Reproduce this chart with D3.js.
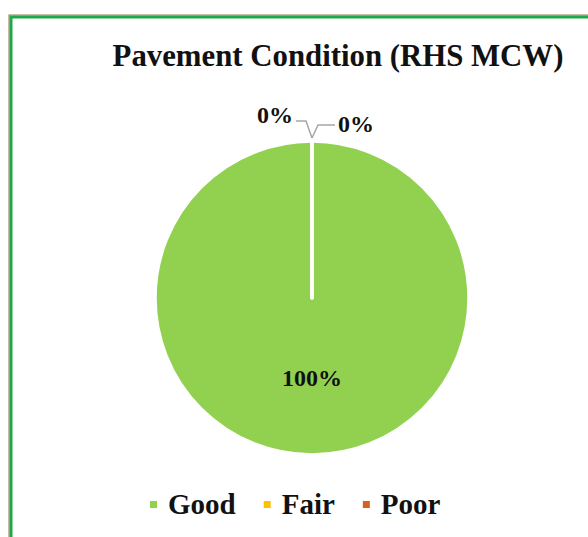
<!DOCTYPE html>
<html>
<head>
<meta charset="utf-8">
<script src="https://cdn.jsdelivr.net/npm/d3@7"></script>
<style>
  html, body { margin: 0; padding: 0; background: #ffffff; }
  svg { display: block; }
</style>
</head>
<body>
<script>
const categories = ["Good", "Fair", "Poor"];
const values = [100, 0, 0];
const labels = ["100%", "0%", "0%"];
const colors = ["#92D050", "#FFC000", "#D9601E"];
const title = "Pavement Condition (RHS MCW)";

const W = 588, H = 537;
const FONT = "'Liberation Serif', 'Times New Roman', serif";
const svg = d3.select("body").append("svg").attr("width", W).attr("height", H);

// frame
svg.append("rect").attr("x", 9).attr("y", 15).attr("width", W + 20).attr("height", H + 20)
  .attr("fill", "none").attr("stroke", "#8A7A4A").attr("stroke-width", 1);
svg.append("rect").attr("x", 11).attr("y", 17).attr("width", W + 20).attr("height", H + 20)
  .attr("fill", "none").attr("stroke", "#21A84A").attr("stroke-width", 3);

// title
svg.append("text").attr("x", 338).attr("y", 66).attr("text-anchor", "middle")
  .attr("font-family", FONT).attr("font-weight", "bold").attr("font-size", 30.8)
  .attr("fill", "#111").text(title);

const cx = 312, cy = 298, R = 157;
const g = svg.append("g").attr("transform", `translate(${cx},${cy})`);
const pie = d3.pie().sort(null).value(d => d);
const arcs = pie(values);
const arc = d3.arc().innerRadius(0).outerRadius(R);
const color = d3.scaleOrdinal().domain(categories).range(colors);

g.selectAll("path.slice").data(arcs).enter().append("path")
  .attr("class", "slice")
  .attr("d", arc)
  .attr("fill", (d, i) => color(categories[i]))
  .attr("stroke", "#ffffff").attr("stroke-width", 3.5).attr("stroke-linejoin", "round");

// labels
const lab = svg.append("g").attr("font-family", FONT).attr("font-weight", "bold")
  .attr("font-size", 24).attr("fill", "#111");
const a0 = (arcs[0].startAngle + arcs[0].endAngle) / 2;
lab.append("text").attr("x", cx + Math.sin(a0) * R * 0.56).attr("y", cy - Math.cos(a0) * R * 0.56 + 0)
  .attr("text-anchor", "middle").text(labels[0]);

// zero slices labels with leader lines
const leader = svg.append("g").attr("fill", "none").attr("stroke", "#A6A6A6").attr("stroke-width", 1.5);
[1, 2].forEach((i, k) => {
  const a = arcs[i].startAngle;
  const px = cx + Math.sin(a) * R, py = cy - Math.cos(a) * R - 3;
  const side = k === 0 ? -1 : 1;
  const ey = k === 0 ? py - 17 : py - 13;
  const kx = px + side * 6;
  const hx = px + side * (k === 0 ? 16 : 23);
  leader.append("path").attr("d", `M${px},${py}L${kx},${ey}L${hx},${ey}`);
  lab.append("text").attr("x", hx + side * 3).attr("y", ey + (k === 0 ? 2 : 7))
    .attr("text-anchor", k === 0 ? "end" : "start").text(labels[i]);
});

// legend
const leg = svg.append("g").attr("font-family", FONT).attr("font-weight", "bold").attr("font-size", 29).attr("fill", "#111");
let x = 150;
categories.forEach((c, i) => {
  leg.append("rect").attr("x", x).attr("y", 501).attr("width", 7).attr("height", 7).attr("fill", color(c));
  const t = leg.append("text").attr("x", x + 18).attr("y", 514).text(c);
  const w = t.node().getComputedTextLength();
  x = x + 18 + w + 28;
});
</script>
</body>
</html>
